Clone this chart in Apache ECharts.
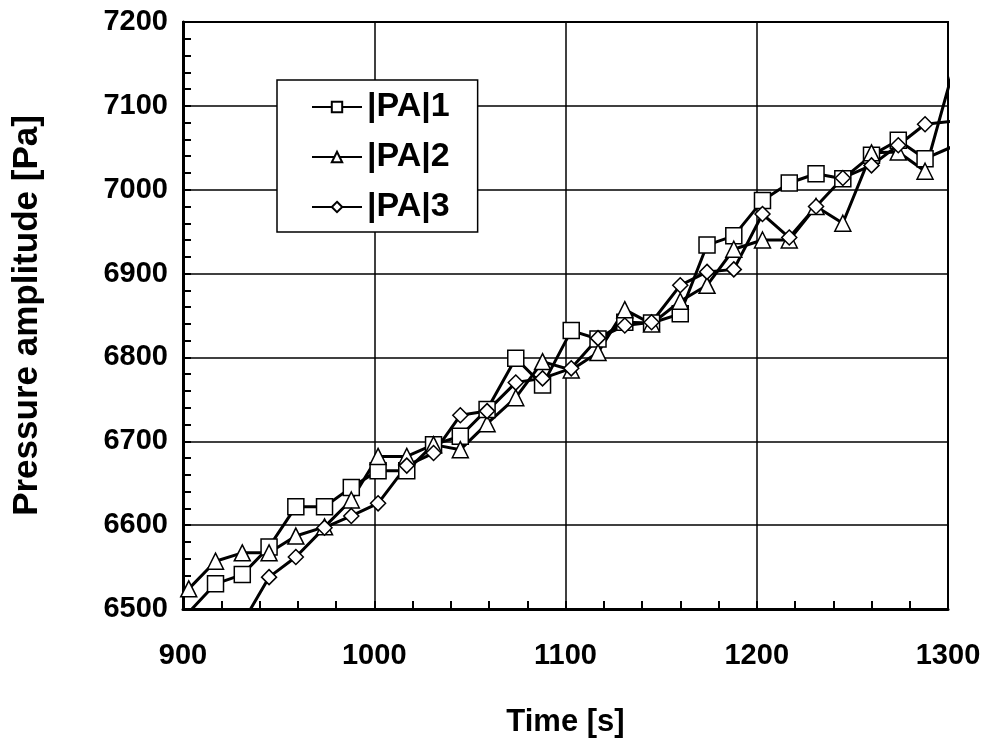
<!DOCTYPE html>
<html>
<head>
<meta charset="utf-8">
<script src="https://cdn.jsdelivr.net/npm/echarts@6/dist/echarts.min.js"></script>
<style>
html,body{margin:0;padding:0;background:#fff;}
#chart{width:989px;height:749px;}
</style>
</head>
<body>
<div id="chart"></div>
<script>
var times = [903, 917, 931, 945, 959, 974, 988, 1002, 1017, 1031, 1045, 1059, 1074, 1088, 1103, 1117, 1131, 1145, 1160, 1174, 1188, 1203, 1217, 1231, 1245, 1260, 1274, 1288, 1303];
var pa1 = [6496, 6530, 6541, 6574, 6622, 6622, 6645, 6665, 6665, 6696, 6706, 6738, 6799, 6767, 6832, 6822, 6842, 6841, 6852, 6934, 6945, 6987, 7008, 7019, 7013, 7041, 7059, 7037, 7052];
var pa2 = [6524, 6557, 6567, 6567, 6587, 6598, 6630, 6682, 6682, 6696, 6690, 6721, 6752, 6795, 6785, 6806, 6857, 6840, 6867, 6886, 6929, 6940, 6940, 6980, 6960, 7044, 7045, 7022, 7145];
var pa3 = [null, 6440, 6483, 6538, 6562, 6597, 6611, 6626, 6671, 6686, 6731, 6736, 6770, 6775, 6787, 6823, 6838, 6842, 6886, 6902, 6905, 6971, 6943, 6980, 7014, 7029, 7053, 7078, 7082];
var seriesNames = ['|PA|1', '|PA|2', '|PA|3'];
var xTicks = {min: 900, max: 1300, interval: 100};
var yTicks = {min: 6500, max: 7200, interval: 100};

function pairs(vals){
  var out = [];
  for (var i = 0; i < times.length; i++) {
    out.push([times[i], vals[i] == null ? null : vals[i]]);
  }
  return out;
}

var FONT = '"Liberation Sans", Arial, sans-serif';
var chart = echarts.init(document.getElementById('chart'));

function mkSeries(name, vals, symbol, size){
  return {
    name: name,
    type: 'line',
    data: pairs(vals),
    symbol: symbol,
    symbolSize: size,
    showAllSymbol: true,
    clip: true,
    connectNulls: false,
    lineStyle: {color: '#000', width: 3},
    itemStyle: {color: '#fff', borderColor: '#000', borderWidth: 1.5},
    emphasis: {disabled: true},
    animation: false
  };
}

chart.setOption({
  animation: false,
  backgroundColor: '#fff',
  grid: {left: 183, right: 41, top: 22, bottom: 140, show: true, borderColor: '#000', borderWidth: 2, backgroundColor: 'transparent'},
  legend: {
    orient: 'vertical',
    left: 277, top: 80,
    padding: [10, 28, 8, 34],
    itemGap: 16,
    itemWidth: 50,
    itemHeight: 13,
    backgroundColor: '#fff',
    borderColor: '#000',
    borderWidth: 1.5,
    borderRadius: 0,
    textStyle: {fontFamily: FONT, fontWeight: 'bold', fontSize: 34, color: '#000'},
    data: seriesNames
  },
  xAxis: {
    type: 'value',
    min: xTicks.min, max: xTicks.max, interval: xTicks.interval,
    name: 'Time [s]',
    nameLocation: 'middle',
    nameGap: 98,
    nameTextStyle: {fontFamily: FONT, fontWeight: 'bold', fontSize: 31, color: '#000'},
    axisLine: {show: true, lineStyle: {color: '#000', width: 3}},
    axisTick: {show: true, inside: true, length: 8, lineStyle: {color: '#000', width: 2}},
    minorTick: {show: true, splitNumber: 5, length: 8, lineStyle: {color: '#000', width: 2}},
    axisLabel: {fontFamily: FONT, fontWeight: 'bold', fontSize: 29, color: '#000', margin: 32, formatter: function(v){ return String(v); }},
    splitLine: {show: true, lineStyle: {color: '#000', width: 1.5}}
  },
  yAxis: {
    type: 'value',
    min: yTicks.min, max: yTicks.max, interval: yTicks.interval,
    name: 'Pressure amplitude [Pa]',
    nameLocation: 'middle',
    nameGap: 138,
    nameRotate: 90,
    nameTextStyle: {fontFamily: FONT, fontWeight: 'bold', fontSize: 35, color: '#000'},
    axisLine: {show: true, lineStyle: {color: '#000', width: 3}},
    axisTick: {show: true, inside: true, length: 8, lineStyle: {color: '#000', width: 2}},
    minorTick: {show: true, splitNumber: 5, length: 8, lineStyle: {color: '#000', width: 2}},
    axisLabel: {fontFamily: FONT, fontWeight: 'bold', fontSize: 29, color: '#000', margin: 15, formatter: function(v){ return String(v); }},
    splitLine: {show: true, lineStyle: {color: '#000', width: 1.5}}
  },
  series: [
    mkSeries(seriesNames[0], pa1, 'rect', 16),
    mkSeries(seriesNames[1], pa2, 'triangle', 16),
    mkSeries(seriesNames[2], pa3, 'diamond', 15)
  ]
});
</script>
</body>
</html>
